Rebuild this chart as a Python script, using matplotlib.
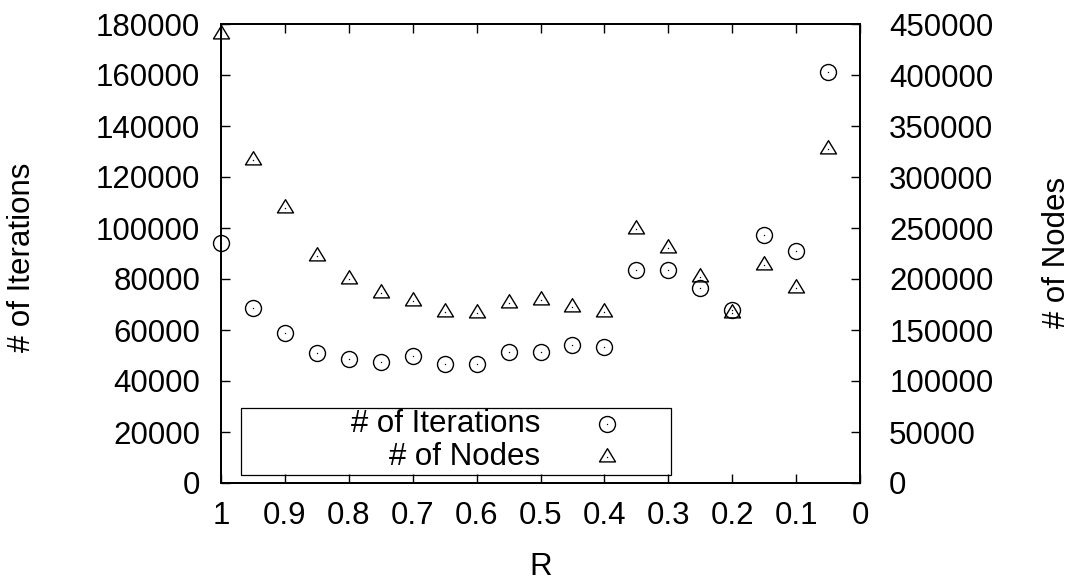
import numpy as np
import matplotlib.pyplot as plt
from matplotlib.path import Path
from matplotlib.patches import Rectangle

# R sweep and measured counts
R = [1.0, 0.95, 0.9, 0.85, 0.8, 0.75, 0.7, 0.65, 0.6, 0.55,
     0.5, 0.45, 0.4, 0.35, 0.3, 0.25, 0.2, 0.15, 0.1, 0.05]
iterations = [94000, 68500, 59000, 51000, 48800, 47500, 49800, 46600, 46800, 51400,
              51500, 54300, 53300, 83500, 83400, 76600, 67800, 97100, 91100, 161200]
nodes = [440000, 317000, 270000, 222500, 200000, 186000, 178000, 168000, 166300, 176000,
         179000, 173000, 167600, 248700, 230000, 201600, 166300, 213700, 190800, 327000]

x_ticks = [1, 0.9, 0.8, 0.7, 0.6, 0.5, 0.4, 0.3, 0.2, 0.1, 0]
y1_ticks = [0, 20000, 40000, 60000, 80000, 100000, 120000, 140000, 160000, 180000]
y2_ticks = [0, 50000, 100000, 150000, 200000, 250000, 300000, 350000, 400000, 450000]

plt.rcParams['font.family'] = ['Liberation Sans', 'DejaVu Sans']
FS = 22.5

W, H = 1073, 580
fig = plt.figure(figsize=(W / 100, H / 100), dpi=100)
L, Rt, T, B = 221, 860, 24, 483
ax = fig.add_axes([L / W, (H - B) / H, (Rt - L) / W, (B - T) / H])
ax2 = ax.twinx()

# gnuplot-like triangle centred on its centroid
tri = Path([(0, 1.1), (-1, -0.55), (1, -0.55), (0, 1.1)],
           [Path.MOVETO, Path.LINETO, Path.LINETO, Path.CLOSEPOLY])

ax.plot(R, iterations, ls='none', marker='o', ms=11.5, mfc='none', mec='black', mew=1.0,
        clip_on=False)
ax.plot(R, iterations, ls='none', marker='o', ms=1.0, mfc='black', mec='black', mew=0,
        clip_on=False)
ax2.plot(R, nodes, ls='none', marker=tri, ms=12.7, mfc='none', mec='black', mew=1.0,
         clip_on=False)
ax2.plot(R, nodes, ls='none', marker='o', ms=1.0, mfc='black', mec='black', mew=0,
         clip_on=False)

ax.set_xlim(1, 0)
ax.set_ylim(0, 180000)
ax2.set_ylim(0, 450000)

ax.set_xticks(x_ticks)
ax.set_xticklabels(['%g' % v for v in x_ticks])
ax.set_yticks(y1_ticks)
ax.set_yticklabels([str(v) for v in y1_ticks])
ax2.set_yticks(y2_ticks)
ax2.set_yticklabels([str(v) for v in y2_ticks])

ax.tick_params(axis='x', which='both', direction='in', top=True, bottom=True,
               length=6.5, width=1.0, labelsize=FS, pad=13)
ax.tick_params(axis='y', direction='in', left=True, right=False,
               length=6.5, width=1.0, labelsize=FS, pad=15)
ax2.tick_params(axis='y', direction='in', left=False, right=True,
                length=6.5, width=1.0, labelsize=FS, pad=21)

for a in (ax, ax2):
    for s in a.spines.values():
        s.set_linewidth(1.3)

# key box
ax.add_patch(Rectangle(((241 - L) / (Rt - L), (B - 475) / (B - T)),
                       (671 - 241) / (Rt - L), (475 - 408) / (B - T),
                       transform=ax.transAxes, fill=False, ec='black', lw=0.9, zorder=5))
tx = (540 - L) / (Rt - L)
mx = (607 - L) / (Rt - L)
row1 = (B - 424) / (B - T)
row2 = (B - 457) / (B - T)
ax.text(tx, row1, '# of Iterations', transform=ax.transAxes, ha='right', va='center',
        fontsize=FS, zorder=6)
ax.text(tx, row2, '# of Nodes', transform=ax.transAxes, ha='right', va='center',
        fontsize=FS, zorder=6)
ax.plot([mx], [row1], transform=ax.transAxes, marker='o', ms=11.5, mfc='none',
        mec='black', mew=1.0, clip_on=False, zorder=6)
ax.plot([mx], [row1], transform=ax.transAxes, marker='o', ms=1.0, mfc='black',
        mew=0, clip_on=False, zorder=6)
ax.plot([mx], [row2], transform=ax.transAxes, marker=tri, ms=12.7, mfc='none',
        mec='black', mew=1.0, clip_on=False, zorder=6)
ax.plot([mx], [row2], transform=ax.transAxes, marker='o', ms=1.0, mfc='black',
        mew=0, clip_on=False, zorder=6)

fig.text(22 / W, 1 - 257 / H, '# of Iterations', rotation=90, ha='center', va='center', fontsize=FS)
fig.text(1057 / W, 1 - 252 / H, '# of Nodes', rotation=90, ha='center', va='center', fontsize=FS)
fig.text(541 / W, 1 - 567 / H, 'R', ha='center', va='center', fontsize=FS)

fig.savefig('out.png', dpi=100)
